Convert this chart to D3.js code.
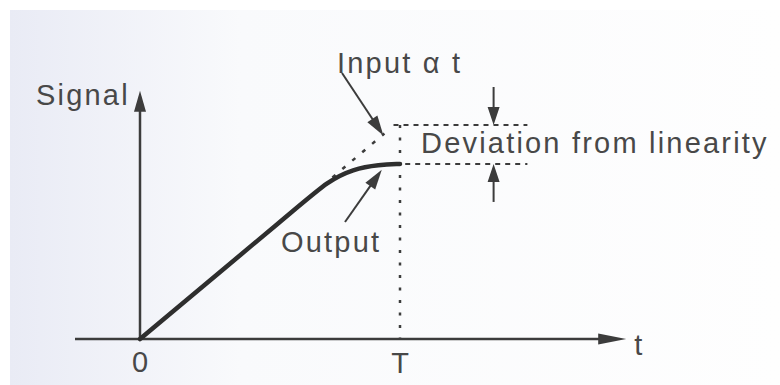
<!DOCTYPE html>
<html>
<head>
<meta charset="utf-8">
<script src="https://cdn.jsdelivr.net/npm/d3@7"></script>
<style>
  body { margin: 0; background: #fff; }
  svg { display: block; }
  text { font-family: "Liberation Sans", Arial, sans-serif; font-size: 29px; fill: #484848; letter-spacing: 2.2px; }
</style>
</head>
<body>
<svg id="chart" width="780" height="385"></svg>
<script>
// data, in units of t (T = 1) and signal (input at T = 1)
var outputPts = [[0, 0], [0.62, 0.63], [0.72, 0.735], [0.82, 0.795], [0.92, 0.815], [1, 0.818]];
var inputPts = [[0.74, 0.755], [0.94, 0.96]];
var xTicks = [0, 1];
var xTickLabels = ["0", "T"];
var tRange = [-0.25, 1.87];
var sRange = [0, 1.16];
var devLevels = [1, 0.818];

var svg = d3.select("#chart");
var width = 780, height = 385;

var x = d3.scaleLinear().domain([0, 1]).range([140, 400]);
var y = d3.scaleLinear().domain([0, 1]).range([339, 125]);

// scan-ish background
var defs = svg.append("defs");
var grad = defs.append("linearGradient").attr("id", "bg").attr("x1", 0).attr("x2", 1);
grad.append("stop").attr("offset", "0%").attr("stop-color", "#e9ebf5");
grad.append("stop").attr("offset", "30%").attr("stop-color", "#f9fafc");
grad.append("stop").attr("offset", "100%").attr("stop-color", "#fefefe");
svg.append("rect").attr("x", 10).attr("y", 10).attr("width", width - 10).attr("height", height - 10)
    .attr("fill", "url(#bg)");

var ink = "#3c3c3c";

function arrowHead(x1, y1, x2, y2, len, half) {
    var dx = x2 - x1, dy = y2 - y1;
    var d = Math.sqrt(dx * dx + dy * dy);
    var ux = dx / d, uy = dy / d;
    var bx = x2 - ux * len, by = y2 - uy * len;
    svg.append("path")
        .attr("d", "M" + x2 + "," + y2 + "L" + (bx - uy * half) + "," + (by + ux * half) +
            "L" + (bx + uy * half) + "," + (by - ux * half) + "Z")
        .attr("fill", ink);
}

function arrow(x1, y1, x2, y2, len, half, w) {
    var dx = x2 - x1, dy = y2 - y1;
    var d = Math.sqrt(dx * dx + dy * dy);
    svg.append("line")
        .attr("x1", x1).attr("y1", y1)
        .attr("x2", x2 - dx / d * (len - 2)).attr("y2", y2 - dy / d * (len - 2))
        .attr("stroke", ink).attr("stroke-width", w);
    arrowHead(x1, y1, x2, y2, len, half);
}

// axes
arrow(x(tRange[0]), y(0), x(tRange[1]), y(0), 28, 5.5, 2.5);
arrow(x(0), y(0), x(0), y(sRange[1]), 21, 6, 2.5);

// dotted guides
svg.append("line")
    .attr("x1", x(1)).attr("x2", x(1)).attr("y1", y(devLevels[0])).attr("y2", y(0))
    .attr("stroke", ink).attr("stroke-width", 2.5).attr("stroke-dasharray", "3,9.5");
svg.append("line")
    .attr("x1", x(0.975)).attr("x2", x(1.49)).attr("y1", y(devLevels[0])).attr("y2", y(devLevels[0]))
    .attr("stroke", ink).attr("stroke-width", 2).attr("stroke-dasharray", "5,5");
svg.append("line")
    .attr("x1", x(1.02)).attr("x2", x(1.49)).attr("y1", y(devLevels[1])).attr("y2", y(devLevels[1]))
    .attr("stroke", ink).attr("stroke-width", 2).attr("stroke-dasharray", "5,5");

// input (dotted extension)
svg.append("path")
    .datum(inputPts)
    .attr("d", d3.line().x(function(d) { return x(d[0]); }).y(function(d) { return y(d[1]); }))
    .attr("fill", "none").attr("stroke", ink).attr("stroke-width", 2.5)
    .attr("stroke-dasharray", "4,9");

// output
svg.append("path")
    .datum(outputPts)
    .attr("d", d3.line().x(function(d) { return x(d[0]); }).y(function(d) { return y(d[1]); })
        .curve(d3.curveBasis))
    .attr("fill", "none").attr("stroke", "#2e2e2e").attr("stroke-width", 4.5)
    .attr("stroke-linecap", "round");

// deviation arrows
var devX = x(1.36);
arrow(devX, y(devLevels[0]) - 38, devX, y(devLevels[0]), 18, 6, 2);
arrow(devX, y(devLevels[1]) + 38, devX, y(devLevels[1]), 18, 6, 2);

// pointer arrows
arrow(342, 73, x(0.94) - 1, y(0.96) + 2, 20, 6, 2);
arrow(345, 222, x(0.93), y(0.805) + 3, 20, 6, 2);

// labels
svg.append("text").attr("x", 36).attr("y", 105).text("Signal");
svg.append("text").attr("x", 337).attr("y", 73).text("Input \u03b1 t");
svg.append("text").attr("x", 421).attr("y", 153).text("Deviation from linearity");
svg.append("text").attr("x", 281).attr("y", 252).text("Output");
svg.append("text").attr("x", x(tRange[1]) + 8).attr("y", 355).style("letter-spacing", "0px").text("t");

svg.selectAll("text.tick")
    .data(xTicks)
    .enter()
    .append("text")
    .attr("class", "tick")
    .attr("x", function(d) { return x(d); })
    .attr("y", function(d, i) { return i === 0 ? 372 : 373; })
    .attr("text-anchor", "middle")
    .style("letter-spacing", "0px")
    .text(function(d, i) { return xTickLabels[i]; });
</script>
</body>
</html>
